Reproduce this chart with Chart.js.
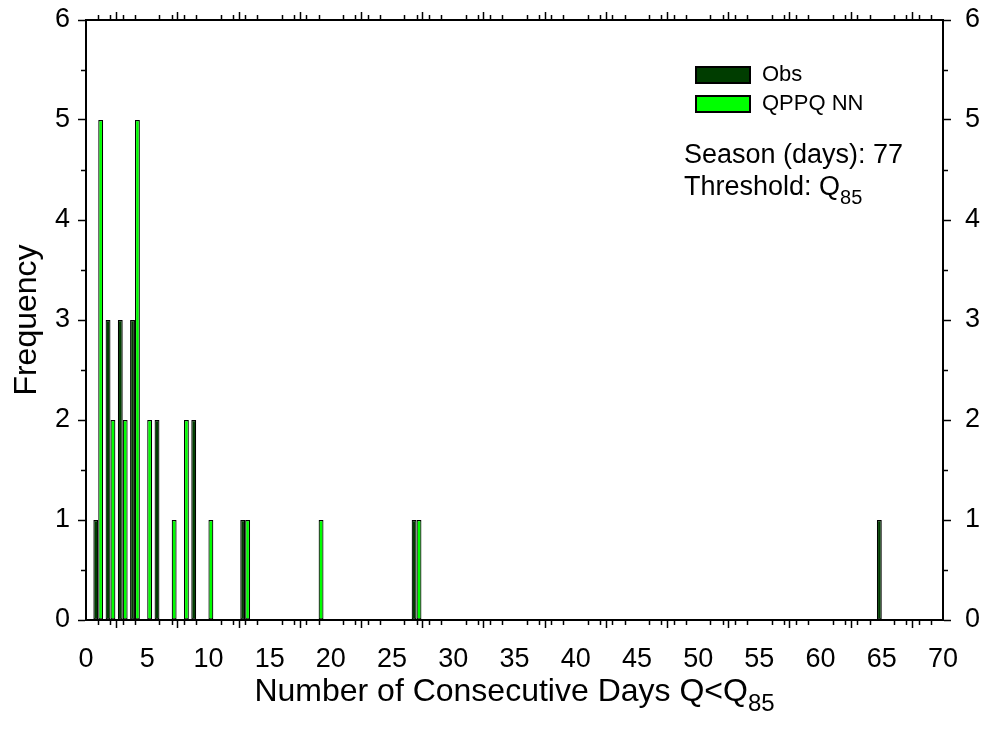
<!DOCTYPE html>
<html>
<head>
<meta charset="utf-8">
<script src="https://cdn.jsdelivr.net/npm/chart.js@4.4.1/dist/chart.umd.min.js"></script>
<style>
  body { margin: 0; background: #fff; }
</style>
</head>
<body>
<canvas id="runs" width="985" height="740"></canvas>
<script>
// run lengths (days) and how many times each one occurred
const obsDays = [1, 2, 3, 4, 6, 9, 13, 27, 65];
const obsFreq = [1, 3, 3, 3, 2, 2, 1, 1, 1];
const nnDays = [1, 2, 3, 4, 5, 7, 8, 10, 13, 19, 27];
const nnFreq = [5, 2, 2, 5, 2, 1, 2, 1, 1, 1, 1];

const xRange = [0, 70];
const yRange = [0, 6];
const seasonDays = 77;

const FONT = '"Liberation Sans", Arial, sans-serif';
Chart.defaults.font.family = FONT;
Chart.defaults.color = '#000';

function toPoints(days, freq) {
    return days.map((d, i) => ({ x: d, y: freq[i] }));
}

// fixed axis sizes so the plot box lands where it should
function fixWidth(w) {
    return s => { s.width = w; s.paddingTop = 0; s.paddingBottom = 0; };
}
function fixHeight(h) {
    return s => { s.height = h; s.paddingLeft = 0; s.paddingRight = 0; };
}

// small ticks between the labelled ones, plus legend and notes
const extras = {
    id: 'extras',
    afterDraw(chart) {
        const ctx = chart.ctx;
        const a = chart.chartArea;
        const x = chart.scales.x, y = chart.scales.y;
        ctx.save();
        ctx.strokeStyle = '#000';
        ctx.lineWidth = 1.5;
        ctx.beginPath();
        for (let v = xRange[0]; v <= xRange[1]; v++) {
            if (v % 5 === 0) continue;
            const px = Math.round(x.getPixelForValue(v)) + 0.5;
            ctx.moveTo(px, a.bottom); ctx.lineTo(px, a.bottom + 5);
            ctx.moveTo(px, a.top); ctx.lineTo(px, a.top - 5);
        }
        for (let v = yRange[0] + 0.5; v < yRange[1]; v += 1) {
            const py = Math.round(y.getPixelForValue(v)) + 0.5;
            ctx.moveTo(a.left, py); ctx.lineTo(a.left - 5, py);
            ctx.moveTo(a.right, py); ctx.lineTo(a.right + 5, py);
        }
        ctx.stroke();

        // legend
        ctx.textBaseline = 'middle';
        ctx.textAlign = 'left';
        chart.data.datasets.forEach((ds, i) => {
            const top = 67 + i * 29;
            ctx.fillStyle = ds.backgroundColor;
            ctx.fillRect(696, top, 54, 16);
            ctx.lineWidth = 2;
            ctx.strokeRect(696, top, 54, 16);
            ctx.fillStyle = '#000';
            ctx.font = '22px ' + FONT;
            ctx.fillText(ds.label, 762, top + 8);
        });

        // notes
        ctx.textBaseline = 'alphabetic';
        ctx.font = '27px ' + FONT;
        ctx.fillText('Season (days): ' + seasonDays, 684, 163);
        ctx.fillText('Threshold: Q', 684, 195);
        let w = ctx.measureText('Threshold: Q').width;
        ctx.font = '20px ' + FONT;
        ctx.fillText('85', 684 + w, 204);

        // axis titles
        ctx.font = '32px ' + FONT;
        const t = 'Number of Consecutive Days Q<Q';
        w = ctx.measureText(t).width;
        ctx.font = '24px ' + FONT;
        const sw = ctx.measureText('85').width;
        const left = (a.left + a.right) / 2 - (w + sw) / 2;
        ctx.font = '32px ' + FONT;
        ctx.fillText(t, left, 701);
        ctx.font = '24px ' + FONT;
        ctx.fillText('85', left + w, 711);

        ctx.translate(27, (a.top + a.bottom) / 2);
        ctx.rotate(-Math.PI / 2);
        ctx.textAlign = 'center';
        ctx.textBaseline = 'middle';
        ctx.font = '32px ' + FONT;
        ctx.fillText('Frequency', 0, 0);
        ctx.restore();
    }
};

const axisLine = { color: '#000', width: 2 };
const tickGrid = { drawOnChartArea: false, tickLength: 8, tickColor: '#000', tickWidth: 1.5 };

new Chart(document.getElementById('runs'), {
    type: 'bar',
    data: {
        datasets: [
            {
                label: 'Obs',
                data: toPoints(obsDays, obsFreq),
                xAxisID: 'x', yAxisID: 'y',
                backgroundColor: '#003d00',
                borderColor: '#000',
                borderWidth: 1.2,
                borderSkipped: false,
                categoryPercentage: 0.8,
                barPercentage: 1
            },
            {
                label: 'QPPQ NN',
                data: toPoints(nnDays, nnFreq),
                xAxisID: 'x', yAxisID: 'y',
                backgroundColor: '#00ff00',
                borderColor: '#000',
                borderWidth: 1.2,
                borderSkipped: false,
                categoryPercentage: 0.8,
                barPercentage: 1
            }
        ]
    },
    options: {
        responsive: false,
        animation: false,
        layout: { padding: 0 },
        plugins: { legend: { display: false }, tooltip: { enabled: false } },
        scales: {
            x: {
                type: 'linear', position: 'bottom',
                min: xRange[0], max: xRange[1], offset: false,
                ticks: { stepSize: 5, font: { size: 27 }, padding: 15, maxRotation: 0, autoSkip: false },
                grid: tickGrid, border: axisLine,
                afterFit: fixHeight(120)
            },
            xTop: {
                type: 'linear', position: 'top',
                min: xRange[0], max: xRange[1], offset: false,
                ticks: { stepSize: 5, display: false },
                grid: tickGrid, border: axisLine,
                afterFit: fixHeight(20)
            },
            y: {
                position: 'left',
                min: yRange[0], max: yRange[1],
                ticks: { stepSize: 1, font: { size: 27 }, padding: 8 },
                grid: tickGrid, border: axisLine,
                afterFit: fixWidth(86)
            },
            yRight: {
                position: 'right',
                min: yRange[0], max: yRange[1],
                ticks: { stepSize: 1, font: { size: 27 }, padding: 14 },
                grid: tickGrid, border: axisLine,
                afterFit: fixWidth(42)
            }
        }
    },
    plugins: [extras]
});
</script>
</body>
</html>
